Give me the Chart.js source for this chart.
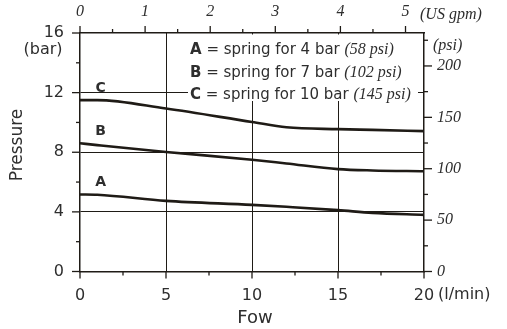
<!DOCTYPE html>
<html>
<head>
<meta charset="utf-8">
<script src="https://cdn.jsdelivr.net/npm/chart.js@4.4.0/dist/chart.umd.min.js"></script>
<style>
  html, body { margin: 0; padding: 0; background: #fff; }
  #wrap { width: 507px; height: 329px; }
</style>
</head>
<body>
<div id="wrap"><canvas id="pressureChart"></canvas></div>
<script>
// flow in l/min, pressure in bar
var flowLpm = [0, 1, 5, 10, 12, 15, 17, 20];
var springA = [5.17, 5.15, 4.74, 4.47, 4.34, 4.12, 3.93, 3.8];
var springB = [8.6, 8.48, 8.02, 7.5, 7.25, 6.87, 6.78, 6.73];
var springC = [11.5, 11.5, 10.93, 10.03, 9.68, 9.55, 9.5, 9.42];

var flowMinor = [2.5, 7.5, 12.5, 17.5];
var barMinor = [2, 6, 10, 14];
var gpmMinor = [0.5, 1.5, 2.5, 3.5, 4.5];
var psiMinor = [25, 75, 125, 175, 225];

var legendLines = [
    ["A", " = spring for 4 bar ", "(58 psi)"],
    ["B", " = spring for 7 bar ", "(102 psi)"],
    ["C", " = spring for 10 bar ", "(145 psi)"]
];

var LPM_PER_GPM = 3.785;
var PSI_PER_BAR = 14.5038;
var ink = '#1f1b16';
var textCol = '#2e2e2e';
var sans = 'DejaVu Sans';
var serif = 'Liberation Serif';

function toPoints(ys) {
    return flowLpm.map(function (x, i) { return { x: x, y: ys[i] }; });
}

function lineSet(label, ys) {
    return {
        label: label,
        data: toPoints(ys),
        borderColor: ink,
        borderWidth: 2.6,
        pointRadius: 0,
        fill: false,
        cubicInterpolationMode: 'monotone',
        xAxisID: 'x',
        yAxisID: 'y'
    };
}

function innerGrid(maxVal) {
    return function (c) {
        var v = c.tick ? c.tick.value : 0;
        return (v > 0 && v < maxVal) ? ink : 'rgba(0,0,0,0)';
    };
}

function tickMarks(ctx, scale, values, len, side) {
    values.forEach(function (v) {
        var p = scale.getPixelForValue(v);
        ctx.beginPath();
        if (side === 'bottom') { ctx.moveTo(p, scale.top); ctx.lineTo(p, scale.top + len); }
        if (side === 'top') { ctx.moveTo(p, scale.bottom); ctx.lineTo(p, scale.bottom - len); }
        if (side === 'left') { ctx.moveTo(scale.right, p); ctx.lineTo(scale.right - len, p); }
        if (side === 'right') { ctx.moveTo(scale.left, p); ctx.lineTo(scale.left + len, p); }
        ctx.stroke();
    });
}

var decorations = {
    id: 'decorations',
    beforeDatasetsDraw: function (chart) {
        var ctx = chart.ctx;
        // white patch behind the key text
        ctx.save();
        ctx.fillStyle = '#fff';
        ctx.fillRect(188, 34.5, 230, 66.5);
        ctx.restore();
    },
    afterDraw: function (chart) {
        var ctx = chart.ctx;
        var s = chart.scales;
        ctx.save();
        ctx.strokeStyle = ink;
        ctx.lineWidth = 1.3;
        tickMarks(ctx, s.x, s.x.ticks.map(function (t) { return t.value; }), 7, 'bottom');
        tickMarks(ctx, s.x, flowMinor, 4, 'bottom');
        tickMarks(ctx, s.x2, s.x2.ticks.map(function (t) { return t.value; }), 7, 'top');
        tickMarks(ctx, s.x2, gpmMinor, 4, 'top');
        tickMarks(ctx, s.y, s.y.ticks.map(function (t) { return t.value; }), 8, 'left');
        tickMarks(ctx, s.y, barMinor, 4, 'left');
        tickMarks(ctx, s.y2, s.y2.ticks.map(function (t) { return t.value; }), 8, 'right');
        tickMarks(ctx, s.y2, psiMinor, 4, 'right');

        ctx.fillStyle = textCol;
        ctx.textBaseline = 'middle';

        ctx.textAlign = 'center';
        ctx.font = '16px "' + sans + '"';
        ctx.fillText('(bar)', 43, 50);
        ctx.font = '18px "' + sans + '"';
        ctx.fillText('Fow', 255, 318);

        ctx.textAlign = 'left';
        ctx.font = '16px "' + sans + '"';
        ctx.fillText('(l/min)', 438, 295);
        ctx.font = 'italic 16px "' + serif + '"';
        ctx.fillText('(US gpm)', 420, 15);
        ctx.fillText('(psi)', 433, 46);

        ctx.save();
        ctx.translate(18, 145);
        ctx.rotate(-Math.PI / 2);
        ctx.textAlign = 'center';
        ctx.font = '17px "' + sans + '"';
        ctx.fillText('Pressure', 0, 0);
        ctx.restore();

        // curve letters
        ctx.textAlign = 'center';
        ctx.font = 'bold 14px "' + sans + '"';
        var lx = s.x.getPixelForValue(1.2);
        [['A', springA], ['B', springB], ['C', springC]].forEach(function (c) {
            ctx.fillText(c[0], lx, s.y.getPixelForValue(c[1][0]) - 12);
        });

        // key
        ctx.textAlign = 'left';
        ctx.textBaseline = 'alphabetic';
        var baselines = [54, 77, 99];
        legendLines.forEach(function (ln, i) {
            var x = 190;
            ctx.font = 'bold 15px "' + sans + '"';
            ctx.fillText(ln[0], x, baselines[i]);
            x += ctx.measureText(ln[0]).width;
            ctx.font = '15px "' + sans + '"';
            ctx.fillText(ln[1], x, baselines[i]);
            x += ctx.measureText(ln[1]).width;
            ctx.font = 'italic 16px "' + serif + '"';
            ctx.fillText(ln[2], x, baselines[i]);
        });
        ctx.restore();
    }
};

var chart = new Chart(document.getElementById('pressureChart'), {
    type: 'line',
    data: {
        datasets: [lineSet('A', springA), lineSet('B', springB), lineSet('C', springC)]
    },
    options: {
        responsive: true,
        maintainAspectRatio: false,
        animation: false,
        layout: { padding: 0 },
        plugins: { legend: { display: false }, tooltip: { enabled: false } },
        scales: {
            x: {
                type: 'linear', position: 'bottom', min: 0, max: 20,
                afterFit: function (sc) { sc.height = 57.5; },
                ticks: { stepSize: 5, color: textCol, padding: 15, maxRotation: 0,
                    font: { family: sans, size: 16 } },
                grid: { color: innerGrid(20), lineWidth: 1, drawTicks: false },
                border: { color: ink, width: 1.5 }
            },
            x2: {
                type: 'linear', position: 'top', min: 0, max: 20 / LPM_PER_GPM,
                afterFit: function (sc) { sc.height = 33; },
                ticks: { stepSize: 1, includeBounds: false, color: textCol, padding: 12, maxRotation: 0,
                    font: { family: serif, style: 'italic', size: 16 } },
                grid: { display: false, drawTicks: false },
                border: { color: ink, width: 1.5 }
            },
            y: {
                type: 'linear', position: 'left', min: 0, max: 16,
                afterFit: function (sc) { sc.width = 80; },
                ticks: { stepSize: 4, color: textCol, padding: 16,
                    font: { family: sans, size: 16 } },
                grid: { color: innerGrid(16), lineWidth: 1, drawTicks: false },
                border: { color: ink, width: 1.5 }
            },
            y2: {
                type: 'linear', position: 'right', min: 0, max: 16 * PSI_PER_BAR,
                afterFit: function (sc) { sc.width = 83; },
                ticks: { stepSize: 50, includeBounds: false, color: textCol, padding: 13,
                    font: { family: serif, style: 'italic', size: 16 } },
                grid: { display: false, drawTicks: false },
                border: { color: ink, width: 1.5 }
            }
        }
    },
    plugins: [decorations]
});
</script>
</body>
</html>
